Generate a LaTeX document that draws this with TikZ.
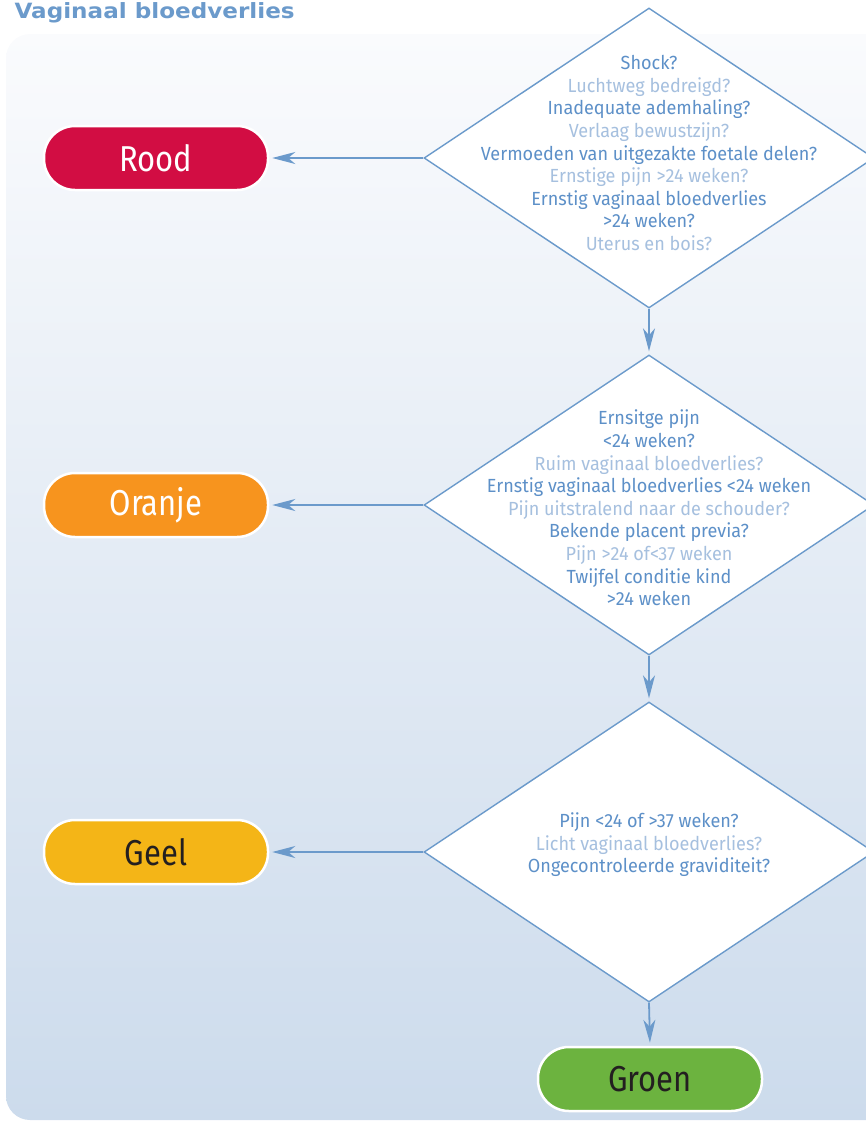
\documentclass[tikz,border=0pt]{standalone}
\usepackage{fontspec}
\setmainfont{Fira Sans}
\newfontfamily\cond{Fira Sans}[FakeStretch=0.95]
\newfontfamily\pillfont{Fira Sans}[FakeStretch=0.86]
\newfontfamily\titlefont{DejaVu Sans}[FakeStretch=1.1]
\usetikzlibrary{shapes.geometric,arrows.meta}
\definecolor{dk}{HTML}{5D90C8}
\definecolor{lt}{HTML}{A6C0DF}
\definecolor{edge}{HTML}{6B9ACB}
\definecolor{bgtop}{HTML}{FAFBFD}
\definecolor{bgbot}{HTML}{CCDBEC}
\definecolor{rood}{HTML}{D20D43}
\definecolor{oranje}{HTML}{F7941E}
\definecolor{geel}{HTML}{F4B517}
\definecolor{groen}{HTML}{6CB33F}
\definecolor{ink}{HTML}{231F20}
\tikzset{
  decision/.style={shape=diamond, draw=edge, line width=1.4pt, fill=white,
    minimum width=450pt, minimum height=300pt, inner sep=0pt, text=white},
  qtext/.style={align=center, inner sep=0pt, font=\cond\fontsize{19}{22.6}\selectfont},
  pill/.style={shape=rectangle, rounded corners=31pt, draw=white, line width=2.5pt,
    minimum width=224pt, minimum height=64pt, font=\pillfont\fontsize{36}{40}\selectfont},
  flow/.style={draw=edge, line width=1.8pt, -{Stealth[length=23pt,width=12pt,inset=7pt]}, shorten >=3pt},
}
\newcommand{\dkq}[1]{\textcolor{dk}{#1}}
\newcommand{\ltq}[1]{\textcolor{lt}{#1}}
\begin{document}
\begin{tikzpicture}[x=1pt,y=-1pt]
\useasboundingbox (0,0) rectangle (865,1122);
\shade[top color=bgtop, bottom color=bgbot, rounded corners=24pt] (6,34) rectangle (900,1120);
\node[anchor=base west, font=\titlefont\bfseries\fontsize{21}{24}\selectfont, text=edge] (title) at (11,18) {Vaginaal bloedverlies};

\node[decision] (d1) at (649,158) {};
\node[decision] (d2) at (649,505) {};
\node[decision] (d3) at (649,852) {};

\node[qtext] (t1) at (649,153) {\dkq{Shock?}\\ \ltq{Luchtweg bedreigd?}\\ \dkq{Inadequate ademhaling?}\\ \ltq{Verlaag bewustzijn?}\\ \dkq{Vermoeden van uitgezakte foetale delen?}\\ \ltq{Ernstige pijn >24 weken?}\\ \dkq{Ernstig vaginaal bloedverlies}\\ \dkq{>24 weken?}\\ \ltq{Uterus en bois?}};
\node[qtext] (t2) at (649,508) {\dkq{Ernsitge pijn}\\ \dkq{<24 weken?}\\ \ltq{Ruim vaginaal bloedverlies?}\\ \dkq{Ernstig vaginaal bloedverlies <24 weken}\\ \ltq{Pijn uitstralend naar de schouder?}\\ \dkq{Bekende placent previa?}\\ \ltq{Pijn >24 of<37 weken}\\ \dkq{Twijfel conditie kind}\\ \dkq{>24 weken}};
\node[qtext] (t3) at (649,845) {\dkq{Pijn <24 of >37 weken?}\\ \ltq{Licht vaginaal bloedverlies?}\\ \dkq{Ongecontroleerde graviditeit?}};

\node[pill, fill=rood, text=white] (rood) at (156,158) {Rood};
\node[pill, fill=oranje, text=white] (oranje) at (156,505) {Oranje};
\node[pill, fill=geel, text=ink] (geel) at (156,852) {Geel};
\node[pill, fill=groen, text=ink] (groen) at (650,1079) {Groen};

\draw[flow] (d1.west) -- (rood.east);
\draw[flow] (d2.west) -- (oranje.east);
\draw[flow] (d3.west) -- (geel.east);
\draw[flow] (d1.south) -- (d2.north);
\draw[flow] (d2.south) -- (d3.north);
\draw[flow] (d3.south) -- (groen.north);
\end{tikzpicture}
\end{document}
